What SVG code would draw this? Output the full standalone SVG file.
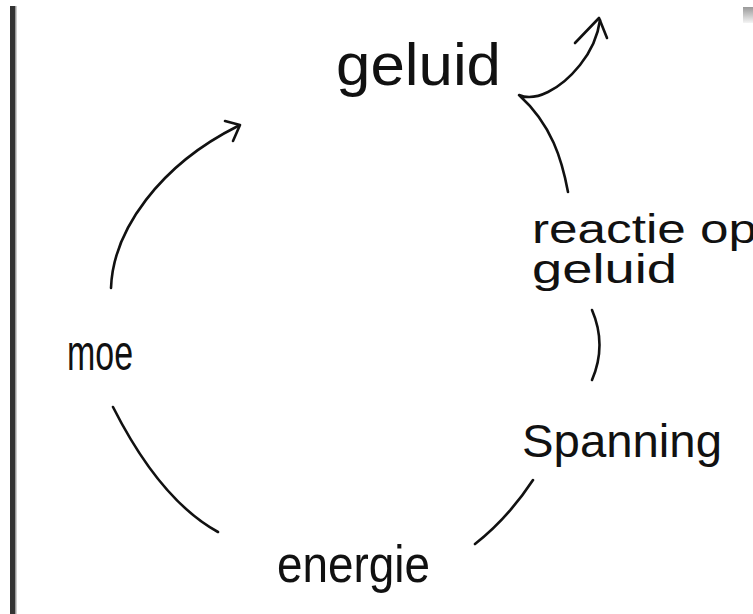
<svg xmlns="http://www.w3.org/2000/svg" width="753" height="614" viewBox="0 0 753 614">
<defs>
<style>
.lbl{font-family:"Liberation Sans","DejaVu Sans",sans-serif;fill:#111;}
.ln{fill:none;stroke:#111;stroke-width:2.6;stroke-linecap:round;stroke-linejoin:round;}
</style>
<linearGradient id="gr" x1="0" y1="0" x2="0" y2="1">
<stop offset="0" stop-color="#999"/>
<stop offset="1" stop-color="#f4f4f4"/>
</linearGradient>
</defs>
<rect x="0" y="0" width="753" height="614" fill="#fff"/>
<rect x="10" y="6" width="5" height="608" fill="#333"/>
<rect x="15" y="6" width="1.5" height="608" fill="#999"/>
<rect x="743" y="7" width="10" height="16" fill="url(#gr)"/>
<g id="node-geluid"><text class="lbl" x="336" y="85" font-size="60" textLength="165" lengthAdjust="spacingAndGlyphs">geluid</text></g>
<g id="node-reactie"><text class="lbl" x="532" y="243" font-size="40" textLength="225" lengthAdjust="spacingAndGlyphs">reactie op</text><text class="lbl" x="532" y="283" font-size="40" textLength="145" lengthAdjust="spacingAndGlyphs">geluid</text></g>
<g id="node-spanning"><text class="lbl" x="522" y="457" font-size="47" textLength="200" lengthAdjust="spacingAndGlyphs">Spanning</text></g>
<g id="node-energie"><text class="lbl" x="277" y="582" font-size="52" textLength="153" lengthAdjust="spacingAndGlyphs">energie</text></g>
<g id="node-moe"><text class="lbl" x="67" y="370" font-size="50" textLength="66" lengthAdjust="spacingAndGlyphs">moe</text></g>
<g id="connectors">
<path class="ln" d="M111,288 C113,230 160,165 238,126"/>
<path class="ln" d="M225,121 L240,125 L233,141"/>
<path class="ln" d="M568,192 C562,160 552,125 519,95 C535,102 560,90 580,65 C592,50 598,35 600,20"/>
<path class="ln" d="M575,43 L599,18 L607,38"/>
<path class="ln" d="M592,310 Q607,345 592,380"/>
<path class="ln" d="M533,480 Q508,518 475,544"/>
<path class="ln" d="M113,407 Q160,500 218,532"/>
</g>
</svg>
